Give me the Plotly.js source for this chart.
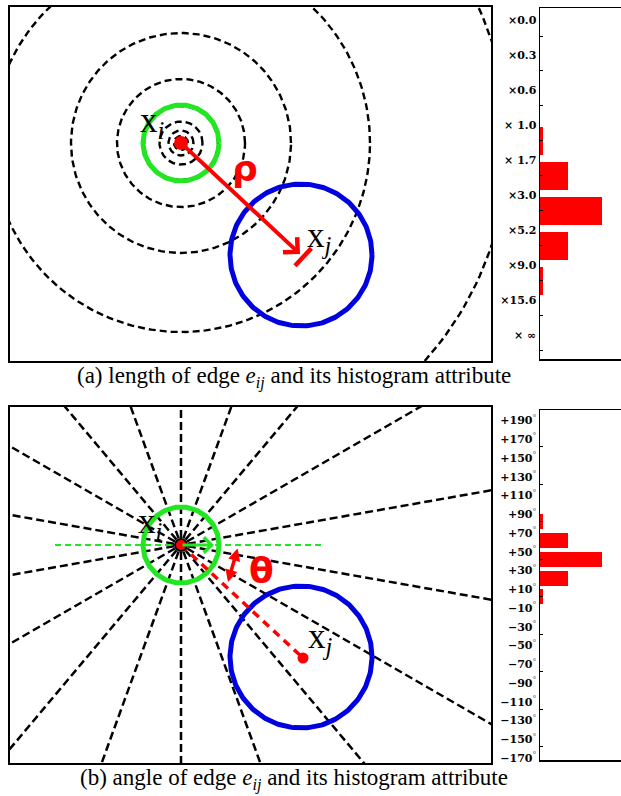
<!DOCTYPE html>
<html><head><meta charset="utf-8">
<script src="https://cdn.plot.ly/plotly-3.0.1.min.js"></script>
<style>html,body{margin:0;padding:0;background:#fff;}#chart{width:621px;height:796px;}</style>
</head><body><div id="chart"></div>
<script>
// ---- data ----
const ringRadii = [7, 12.5, 21.5, 37, 64, 110, 189, 327];          // dashed log-polar rings (diagram px units)
const lengthEdgeLabels = ['×0.0','×0.3','×0.6','× 1.0','× 1.7','×3.0','×5.2','×9.0','×15.6','× ∞'];
const lengthBinValues = [0, 0, 0, 0.05, 0.45, 1.0, 0.45, 0.05, 0];
const angleEdgeDeg = [190,170,150,130,110,90,70,50,30,10,-10,-30,-50,-70,-90,-110,-130,-150,-170];
const angleBinValues = [0,0,0,0,0,0.05,0.45,1.0,0.45,0.05,0,0,0,0,0,0,0,0];
const xiPos = [0, 0];
const xjPos = [120, -112];
const greenR = 38, blueR = 71;

// ---- helpers ----
const GREEN = '#22e622', BLUE = '#0000e0', RED = '#ff0000';
function circle(c, r, n) {
  n = n || 240; const xs = [], ys = [];
  for (let k = 0; k <= n; k++) { const t = 2*Math.PI*k/n; xs.push(c[0] + r*Math.cos(t)); ys.push(c[1] + r*Math.sin(t)); }
  return {xs, ys};
}
function circTrace(c, r, xa, ya, color, width, dash) {
  const p = circle(c, r);
  return {type:'scatter', mode:'lines', x:p.xs, y:p.ys, xaxis:xa, yaxis:ya, hoverinfo:'skip',
          line:{color:color, width:width, dash:dash||'solid'}};
}
const traces = [];

// ---- top diagram ----
ringRadii.forEach(r => traces.push(circTrace(xiPos, r, 'x', 'y', 'black', 2.4, '7px,4px')));
traces.push(circTrace(xiPos, greenR, 'x', 'y', GREEN, 5));
traces.push(circTrace(xjPos, blueR, 'x', 'y', BLUE, 5));
// T-bar at the end of the rho arrow
const dx = xjPos[0]-xiPos[0], dy = xjPos[1]-xiPos[1], L = Math.hypot(dx, dy);
const ux = dx/L, uy = dy/L, px = -uy, py = ux;
const bc = [xjPos[0]+ux*3, xjPos[1]+uy*3];
traces.push({type:'scatter', mode:'lines', x:[bc[0]-px*12, bc[0]+px*12], y:[bc[1]-py*12, bc[1]+py*12],
  xaxis:'x', yaxis:'y', hoverinfo:'skip', line:{color:RED, width:4.5}});
traces.push({type:'scatter', mode:'markers', x:[xiPos[0]], y:[xiPos[1]], xaxis:'x', yaxis:'y', hoverinfo:'skip',
  marker:{color:RED, size:14}});

// ---- bottom diagram ----
const rx = [], ry = [];
angleEdgeDeg.slice(1).forEach(d => {
  const a = d*Math.PI/180;
  rx.push(xiPos[0] + 7*Math.cos(a), xiPos[0] + 800*Math.cos(a), null);
  ry.push(xiPos[1] + 7*Math.sin(a), xiPos[1] + 800*Math.sin(a), null);
});
traces.push({type:'scatter', mode:'lines', x:rx, y:ry, xaxis:'x3', yaxis:'y3', hoverinfo:'skip',
  connectgaps:false, line:{color:'black', width:2.5, dash:'8px,4px'}});
traces.push({type:'scatter', mode:'lines', x:[-126, 141], y:[0, 0], xaxis:'x3', yaxis:'y3', hoverinfo:'skip',
  line:{color:GREEN, width:1.8, dash:'6px,4px'}});
traces.push(circTrace(xiPos, greenR, 'x3', 'y3', GREEN, 5));
traces.push(circTrace(xjPos, blueR, 'x3', 'y3', BLUE, 5));
traces.push({type:'scatter', mode:'lines', x:[xiPos[0], xjPos[0]+2], y:[xiPos[1], xjPos[1]-1], xaxis:'x3', yaxis:'y3',
  hoverinfo:'skip', line:{color:RED, width:3.5, dash:'8px,6px'}});
traces.push({type:'scatter', mode:'markers', x:[xiPos[0]], y:[xiPos[1]], xaxis:'x3', yaxis:'y3', hoverinfo:'skip',
  marker:{color:RED, size:12, line:{color:'black', width:2}}});
traces.push({type:'scatter', mode:'markers', x:[xjPos[0]+2], y:[xjPos[1]-1], xaxis:'x3', yaxis:'y3', hoverinfo:'skip',
  marker:{color:RED, size:11}});

// ---- histograms ----
traces.push({type:'bar', orientation:'h', x:lengthBinValues, y:lengthBinValues.map((v,i)=>i), width:0.8,
  xaxis:'x2', yaxis:'y2', marker:{color:RED, line:{width:0}}, hoverinfo:'skip'});
traces.push({type:'bar', orientation:'h', x:angleBinValues, y:angleBinValues.map((v,i)=>i), width:0.8,
  xaxis:'x4', yaxis:'y4', marker:{color:RED, line:{width:0}}, hoverinfo:'skip'});

const W = 621, H = 796;
const diagX = {domain:[10/W, 491/W], range:[-171, 310], showline:true, mirror:true, linewidth:2, linecolor:'black',
  showticklabels:false, showgrid:false, zeroline:false, ticks:'', fixedrange:true};
function diagY(top, bot, rng, anchor) {
  return {domain:[1-bot/H, 1-top/H], range:rng, anchor:anchor, showline:true, mirror:true, linewidth:2, linecolor:'black',
    showticklabels:false, showgrid:false, zeroline:false, ticks:'', fixedrange:true};
}
const tickFont = {family:'DejaVu Serif', size:11, color:'black', weight:'bold'};
function histX(anchor) {
  return {domain:[540/W, 1], range:[0, 81/62], anchor:anchor, showline:true, mirror:true, linewidth:1.5, linecolor:'black',
    showticklabels:false, showgrid:false, zeroline:false, ticks:'', fixedrange:true};
}
const angleLabels = angleEdgeDeg.map(d => (d > 0 ? '+' : '−') + Math.abs(d) + '<sup><span style="color:#777">°</span></sup>');

const layout = {
  width: W, height: H, margin:{l:0, r:0, t:0, b:0}, paper_bgcolor:'white', plot_bgcolor:'white',
  showlegend:false, bargap:0,
  xaxis: Object.assign({}, diagX, {anchor:'y'}),
  yaxis: diagY(7, 361, [-218, 136], 'x'),
  xaxis3: Object.assign({}, diagX, {anchor:'y3'}),
  yaxis3: diagY(407, 763, [-218, 138], 'x3'),
  xaxis2: histX('y2'),
  yaxis2: {domain:[1-359/H, 1-8/H], range:[9.23, -0.8], anchor:'x2', showline:true, linewidth:1.5, linecolor:'black',
    showgrid:false, zeroline:false, ticks:'', tickmode:'array',
    tickvals: lengthEdgeLabels.map((t,k)=>k-0.45), ticktext: lengthEdgeLabels, tickfont: tickFont,
    minor:{tickmode:'array', tickvals: lengthEdgeLabels.map((t,k)=>k), ticks:'inside', ticklen:3, tickcolor:'black', tickwidth:1},
    fixedrange:true},
  xaxis4: histX('y4'),
  yaxis4: {domain:[1-760/H, 1-410/H], range:[17.7, -0.96], anchor:'x4', showline:true, linewidth:1.5, linecolor:'black',
    showgrid:false, zeroline:false, ticks:'', tickmode:'array',
    tickvals: angleEdgeDeg.map((t,k)=>k-0.4), ticktext: angleLabels, tickfont: tickFont,
    minor:{tickmode:'array', tickvals: angleBinValues.map((v,i)=>i).filter(i=>i%2===1), ticks:'inside', ticklen:3, tickcolor:'black', tickwidth:1},
    fixedrange:true},
  annotations: [
    // rho arrow
    {xref:'x', yref:'y', axref:'x', ayref:'y', x:xjPos[0]-1, y:xjPos[1]+1, ax:xiPos[0], ay:xiPos[1], text:'', showarrow:true,
     arrowhead:4, arrowsize:1, arrowwidth:4, arrowcolor:RED, standoff:0},
    {xref:'x', yref:'y', x:64, y:-26, text:'ρ', showarrow:false, font:{family:'DejaVu Sans', size:36, color:RED, weight:'bold'}},
    {xref:'x', yref:'y', x:-43, y:20, xanchor:'left', yanchor:'middle', text:'x<sub><i>i</i></sub>', showarrow:false,
     font:{family:'Liberation Serif', size:35, color:'black'}},
    {xref:'x', yref:'y', x:124, y:-95, xanchor:'left', yanchor:'middle', text:'x<sub><i>j</i></sub>', showarrow:false,
     font:{family:'Liberation Serif', size:35, color:'black'}},
    // bottom
    {xref:'x3', yref:'y3', axref:'x3', ayref:'y3', x:33, y:0, ax:xiPos[0], ay:xiPos[1], text:'', showarrow:true,
     arrowhead:4, arrowsize:1, arrowwidth:3, arrowcolor:GREEN, standoff:0},
    {xref:'x3', yref:'y3', axref:'x3', ayref:'y3', x:47, y:-37, ax:57, ay:-2, text:'', showarrow:true,
     arrowhead:2, startarrowhead:2, arrowside:'end+start', arrowsize:0.7, startarrowsize:0.7, arrowwidth:3.5, arrowcolor:RED, standoff:0, startstandoff:0},
    {xref:'x3', yref:'y3', x:80, y:-25, text:'θ', showarrow:false, font:{family:'DejaVu Sans', size:36, color:RED, weight:'bold'}},
    {xref:'x3', yref:'y3', x:-45, y:22, xanchor:'left', yanchor:'middle', text:'x<sub><i>i</i></sub>', showarrow:false,
     font:{family:'Liberation Serif', size:35, color:'black'}},
    {xref:'x3', yref:'y3', x:125, y:-93, xanchor:'left', yanchor:'middle', text:'x<sub><i>j</i></sub>', showarrow:false,
     font:{family:'Liberation Serif', size:35, color:'black'}},
    // captions
    {xref:'paper', yref:'paper', x:294/W, y:1-377/H, xanchor:'center', yanchor:'middle', showarrow:false,
     text:'(a) length of edge <i>e</i><sub><i>ij</i></sub> and its histogram attribute',
     font:{family:'Liberation Serif', size:23, color:'black'}},
    {xref:'paper', yref:'paper', x:294/W, y:1-779/H, xanchor:'center', yanchor:'middle', showarrow:false,
     text:'(b) angle of edge <i>e</i><sub><i>ij</i></sub> and its histogram attribute',
     font:{family:'Liberation Serif', size:23, color:'black'}}
  ]
};
Plotly.newPlot('chart', traces, layout, {staticPlot:true, displayModeBar:false});
</script></body></html>
